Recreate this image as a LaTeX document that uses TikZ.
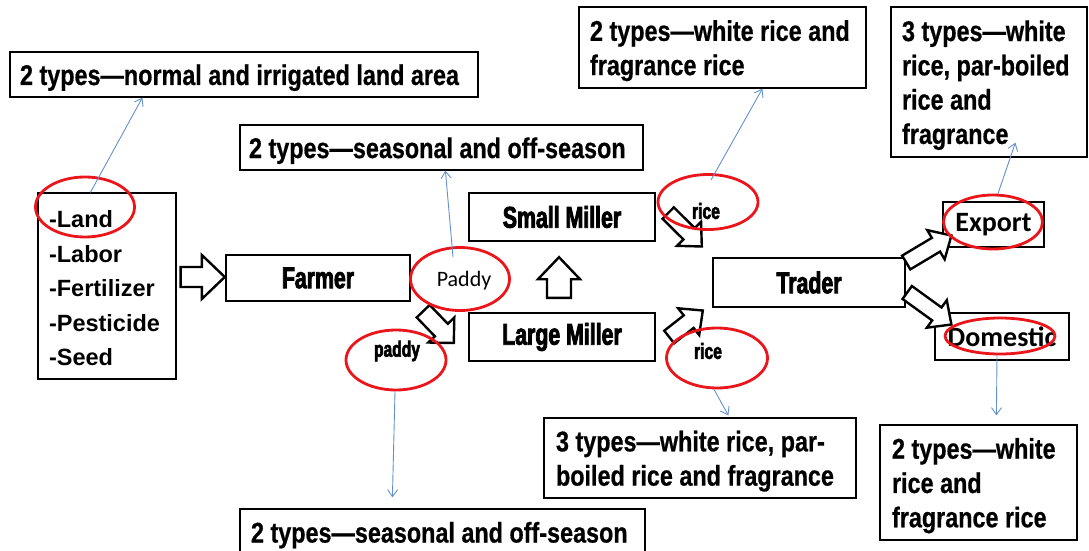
\documentclass[tikz,border=0pt]{standalone}
\usepackage{fontspec}
\setmainfont{Liberation Sans}
\newfontfamily\annfont{Liberation Sans}[FakeStretch=0.82,
  BoldFeatures={FakeStretch=0.82, FakeBold=0.6}]
\newfontfamily\heavyfont{Liberation Sans}[FakeStretch=0.71,FakeBold=2.6]
\newfontfamily\calfont{Carlito}
\usetikzlibrary{shapes.geometric,calc,arrows.meta}

\definecolor{ringred}{RGB}{235,22,28}
\definecolor{noteblue}{RGB}{100,145,205}

\begin{document}
\begin{tikzpicture}[x=1pt,y=-1pt,
  note/.style={draw=black, line width=1.2pt, inner xsep=10pt, inner ysep=0pt,
    align=left, font=\annfont\bfseries\fontsize{28.5pt}{34.3pt}\selectfont,
    execute at begin node={\spaceskip=6.5pt\relax\rule{0pt}{27pt}}},
  stage/.style={draw=black, line width=2.4pt, inner sep=0pt,
    font=\heavyfont\bfseries\fontsize{30pt}{34pt}\selectfont},
  market/.style={draw=black, line width=1.2pt, inner sep=0pt,
    font=\calfont\bfseries\fontsize{28pt}{32pt}\selectfont},
  ring/.style={ellipse, draw=ringred, line width=2.8pt, inner sep=0pt},
  small/.style={inner sep=0pt, font=\heavyfont\bfseries\fontsize{22pt}{24pt}\selectfont},
  link/.style={draw=noteblue, line width=0.9pt, -{Straight Barb[length=7pt,width=10pt]}},
  blockbody/.style={draw=black, line width=2.4pt, fill=white, line join=miter},
  blockarrow/.style n args={3}{to path={
    ($(\tikztostart)!#1!90:(\tikztotarget)$)
    -- ($(\tikztotarget)!#3!(\tikztostart)!#1!90:(\tikztotarget)$)
    -- ($(\tikztotarget)!#3!(\tikztostart)!#2!90:(\tikztotarget)$)
    -- (\tikztotarget)
    -- ($(\tikztotarget)!#3!(\tikztostart)!#2!-90:(\tikztotarget)$)
    -- ($(\tikztotarget)!#3!(\tikztostart)!#1!-90:(\tikztotarget)$)
    -- ($(\tikztostart)!#1!-90:(\tikztotarget)$) -- cycle}}
]
\useasboundingbox (0,0) rectangle (1089,551);

% annotation boxes (text width = box width - 2 x inner xsep)
\node[note, text width=448pt, minimum height=45pt] (boxA) at (244,74.5)
  {2 types—normal and irrigated land area};
\node[note, inner xsep=9pt, text width=385pt, minimum height=45pt] (boxB) at (441.5,147.5)
  {2 types—seasonal and off-season};
\node[note, inner xsep=11pt, text width=265pt, minimum height=81pt] (boxC) at (722.5,47.5)
  {2 types—white rice and\\fragrance rice};
\node[note, inner xsep=11pt, text width=174pt, minimum height=150pt] (boxD) at (989,82)
  {3 types—white\\rice, par-boiled\\rice and\\fragrance};
\node[note, inner xsep=12pt, text width=288pt, minimum height=80pt] (boxF) at (700,458)
  {3 types—white rice, par-\\boiled rice and fragrance};
\node[note, inner xsep=11pt, text width=383pt, minimum height=46pt] (boxE) at (442.5,532)
  {2 types—seasonal and off-season};
\node[note, inner xsep=12pt, text width=173pt, minimum height=115pt] (boxG) at (978.5,482.5)
  {2 types—white\\rice and\\fragrance rice};

% inputs list
\node[draw=black, line width=1.2pt, inner xsep=11pt, inner ysep=0pt, align=left,
  text width=116pt, minimum height=186pt,
  font=\bfseries\fontsize{23.5pt}{34.5pt}\selectfont,
  execute at begin node={\rule{0pt}{22pt}}] (inputs) at (107,286)
  {-Land\\-Labor\\-Fertilizer\\-Pesticide\\-Seed};

% chain stages
\node[stage, minimum width=184pt, minimum height=46pt] (farmer) at (318,278) {Farmer};
\node[stage, minimum width=186pt, minimum height=48pt] (small) at (562,217) {Small Miller};
\node[stage, minimum width=186pt, minimum height=48pt] (large) at (562,337) {Large Miller};
\node[stage, minimum width=192pt, minimum height=49pt] (trader) at (809,282.5) {Trader};
\node[market, minimum width=101pt, minimum height=45pt] (exportbox) at (993.5,224.5) {Export};
\node[market, minimum width=134pt, minimum height=47pt] (dombox) at (1002,336.5) {Domestic};

% hollow block arrows
\coordinate (s1) at ($(inputs.east)+(4,-9)$);
\coordinate (t1) at ($(farmer.west)+(0,-1)$);
\coordinate (s2) at ($(farmer.south east)+(12,9)$);
\coordinate (t2) at ($(large.west)+(-14,6)$);
\coordinate (s3) at ($(large.north)+(-3,-14)$);
\coordinate (t3) at ($(small.south)+(-3,15)$);
\coordinate (s4) at ($(small.east)+(12,-4)$);
\coordinate (t4) at ($(trader.west)+(-10,-36)$);
\coordinate (s5) at ($(large.east)+(13,0)$);
\coordinate (t5) at ($(trader.west)+(-9,28)$);
\coordinate (s6) at ($(trader.east)+(0,-20)$);
\coordinate (t6) at ($(exportbox.west)+(9,11)$);
\coordinate (s7) at ($(trader.east)+(1,10)$);
\coordinate (t7) at ($(dombox.west)+(17,-12)$);

\path[blockbody] (s1) to[blockarrow={10pt}{22pt}{23pt}] (t1);
\path[blockbody] (s2) to[blockarrow={9pt}{18pt}{18pt}] (t2);
\path[blockbody] (s3) to[blockarrow={12pt}{21pt}{22pt}] (t3);
\path[blockbody] (s4) to[blockarrow={8pt}{17pt}{18pt}] (t4);
\path[blockbody] (s5) to[blockarrow={8pt}{17pt}{18pt}] (t5);
\path[blockbody] (s6) to[blockarrow={8pt}{17pt}{18pt}] (t6);
\path[blockbody] (s7) to[blockarrow={8pt}{17pt}{18pt}] (t7);

% product labels
\node[inner sep=0pt, font=\calfont\fontsize{22pt}{24pt}\selectfont] (paddyA) at (464,281) {Paddy};
\node[small] (paddyB) at (397,351) {paddy};
\node[small] (riceA) at (706,211) {rice};
\node[small] (riceB) at (708,351) {rice};

% red rings
\node[ring, minimum width=99pt, minimum height=60pt] (landE) at (85,207) {};
\node[ring, minimum width=99pt, minimum height=63pt] (PaddyE) at (460,279) {};
\node[ring, minimum width=100pt, minimum height=60pt] (paddyE) at (396,360) {};
\node[ring, minimum width=100pt, minimum height=55pt] (riceU) at (708,202) {};
\node[ring, minimum width=101pt, minimum height=60pt] (riceL) at (717,358) {};
\node[ring, minimum width=99pt, minimum height=54pt] (exportE) at (993,222) {};
\node[ring, minimum width=110pt, minimum height=36pt] (domE) at (1000,336) {};

% explanatory links
\draw[link] ($(inputs.north west)+(53,0)$) -- ($(boxA.south west)+(133,0)$);
\draw[link] ($(PaddyE.center)+(-7,-22)$) -- ($(boxB.south west)+(206,0)$);
\draw[link] ($(paddyE.south)+(-1,0)$) -- ($(boxE.north west)+(153,-11)$);
\draw[link] ($(riceL.south)+(-3,0)$) -- ($(boxF.north west)+(185,-2)$);
\draw[link] ($(riceU.center)+(3,-22)$) -- ($(boxC.south west)+(184,0)$);
\draw[link] ($(exportE.north)+(5,0)$) -- ($(boxD.south west)+(125,-15)$);
\draw[link] ($(domE.south)+(-3,0)$) -- ($(boxG.north west)+(117,-9)$);
\end{tikzpicture}
\end{document}
